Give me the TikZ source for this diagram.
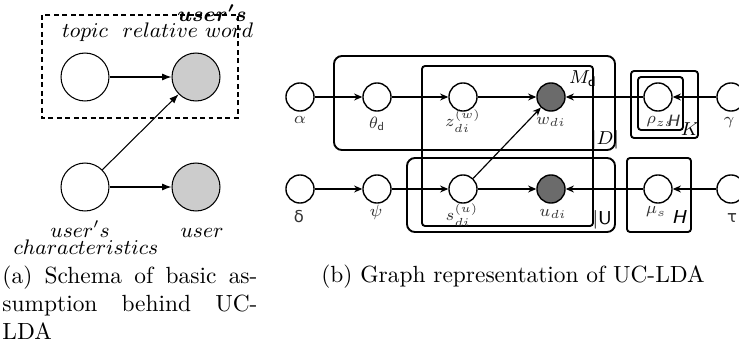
\documentclass[tikz,border=0pt]{standalone}
\usepackage{amsmath}
\usepackage{fontspec}
\newfontfamily\dejavu{DejaVu Sans}
\usetikzlibrary{arrows.meta}
\tikzset{
  lcirc/.style={circle, draw, minimum size=20.5pt, inner sep=0pt, line width=0.45pt},
  lobs/.style={lcirc, fill=black!20},
  rcirc/.style={circle, draw, minimum size=12pt, inner sep=0pt, line width=0.6pt},
  robs/.style={rcirc, fill=black!58},
  larr/.style={-{Latex[length=4pt,width=3pt]}, line width=0.45pt},
  rarr/.style={-{Stealth[length=3.5pt,width=3pt]}, line width=0.5pt},
  bigplate/.style={draw, line width=0.8pt, rounded corners=3.4pt},
  smallplate/.style={draw, line width=0.8pt, rounded corners=1.3pt},
  ltext/.style={inner sep=0pt, anchor=base, font=\fontsize{9}{11}\selectfont},
  rtext/.style={inner sep=0pt, font=\fontsize{7}{8}\selectfont, text=black!80},
  ptext/.style={inner sep=0pt, font=\fontsize{8}{9}\selectfont},
}
\begin{document}
\begin{tikzpicture}[x=0.4274pt, y=-0.4274pt]
\useasboundingbox (0,0) rectangle (739,348);

% ---------- panel (a) ----------
\draw[dash pattern=on 2.1pt off 1.5pt, line width=0.45pt] (42,15) rectangle (238,118);
\node[lcirc] (topic) at (85,77) {};
\node[lobs]  (word)  at (196,77) {};
\node[lcirc] (char)  at (85,187) {};
\node[lobs]  (user)  at (196,187) {};
\draw[larr] (topic) -- (word);
\draw[larr] (char) -- (user);
\draw[larr] (char) -- (word);

\node[ltext] (ttopic) at (85,37) {$topic$};
\node[ltext] (trel)   at (188,37) {$relative\ word$};
\node[ltext] (tus1)   at (212,21) {$\boldsymbol{user's}$};
\node[ltext] (tus2)   at (80,237) {$user's$};
\node[ltext] (tchar)  at (86,254) {$characteristics$};
\node[ltext] (tuser)  at (202,237) {$user$};

\node[anchor=north west, inner sep=0pt, align=left] (capa) at (2,265)
  {\makebox[109pt][s]{(a) Schema of basic as-}\\
   \makebox[109pt][s]{sumption behind UC-}\\
   LDA};

% ---------- panel (b) ----------
\draw[bigplate] (334,56) rectangle (615,150);
\draw[smallplate] (422,66) rectangle (593,226);
\draw[bigplate] (407,158) rectangle (615,232);
\draw[smallplate] (631,71) rectangle (698,138);
\draw[smallplate] (638,77) rectangle (683,130);
\draw[smallplate] (627,158) rectangle (691,232);

\node[rcirc] (alpha) at (300,97) {};
\node[rcirc] (theta) at (377,97) {};
\node[rcirc] (z)     at (463,97) {};
\node[robs]  (w)     at (551,97) {};
\node[rcirc] (rho)   at (658,97) {};
\node[rcirc] (gamma) at (731,97) {};
\node[rcirc] (delta) at (300,189) {};
\node[rcirc] (psi)   at (377,189) {};
\node[rcirc] (s)     at (463,189) {};
\node[robs]  (u)     at (551,189) {};
\node[rcirc] (mu)    at (658,189) {};
\node[rcirc] (tau)   at (731,189) {};

\draw[rarr] (alpha) -- (theta);
\draw[rarr] (theta) -- (z);
\draw[rarr] (z) -- (w);
\draw[rarr] (rho) -- (w);
\draw[rarr] (gamma) -- (rho);
\draw[rarr] (s) -- (w);
\draw[rarr] (delta) -- (psi);
\draw[rarr] (psi) -- (s);
\draw[rarr] (s) -- (u);
\draw[rarr] (mu) -- (u);
\draw[rarr] (tau) -- (mu);

\node[rtext] (lalpha) at (300,120) {$\alpha$};
\node[rtext] (ltheta) at (377,124) {$\theta_{\mathsf{d}}$};
\node[rtext] (lz)     at (463,121) {$z^{(w)}_{di}$};
\node[rtext] (lw)     at (551,122) {$w_{di}$};
\node[rtext] (lrho)   at (660,122) {$\rho_{zs}$};
\node[rtext] (lH1)    at (673,121) {\sffamily\itshape H};
\node[ptext] (lK)     at (690,129) {$K$};
\node[rtext] (lgamma) at (729,123) {$\gamma$};
\node[ptext] (lM)     at (583,79) {$M_{\mathsf{d}}$};
\node[ptext] (lD)     at (605,140) {$|D|$};
\node[rtext] (ldelta) at (299,217) {\dejavu δ};
\node[rtext] (lpsi)   at (376,212) {$\psi$};
\node[rtext] (ls)     at (462,215) {$s^{(u)}_{di}$};
\node[rtext] (lu)     at (553,214) {$u_{di}$};
\node[rtext] (lmu)    at (656,212) {$\mu_s$};
\node[ptext] (lH2)    at (679,217) {\sffamily\itshape H};
\node[rtext] (ltau)   at (732,218) {\dejavu τ};
\node[ptext] (lU)     at (605,220) {\sffamily|U|};

\node[anchor=base, inner sep=0pt] (capb) at (513,282.5) {(b) Graph representation of UC-LDA};
\end{tikzpicture}
\end{document}
